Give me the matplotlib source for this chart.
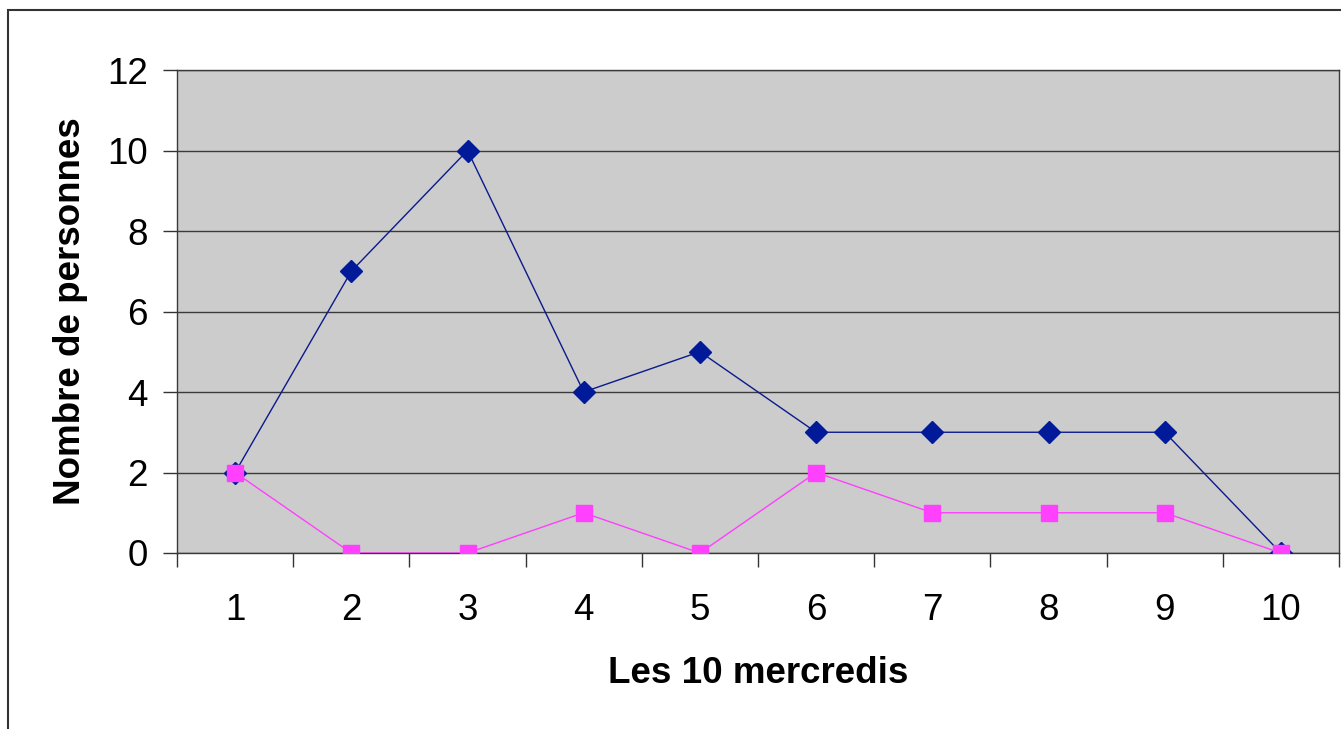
import matplotlib.pyplot as plt
from matplotlib.patches import Rectangle

# donnees
mercredis = [1, 2, 3, 4, 5, 6, 7, 8, 9, 10]
serie_bleue = [2, 7, 10, 4, 5, 3, 3, 3, 3, 0]
serie_rose = [2, 0, 0, 1, 0, 2, 1, 1, 1, 0]
yticks = [0, 2, 4, 6, 8, 10, 12]

plt.rcParams['font.family'] = ['Liberation Sans', 'DejaVu Sans']

fig = plt.figure(figsize=(13.41, 7.29), dpi=100)
fig.patch.set_facecolor('white')

# cadre exterieur (coupe a droite et en bas)
fig.patches.append(Rectangle((8 / 1341, -0.1), 1.2, 1 - 10 / 729 + 0.1,
                             transform=fig.transFigure, fill=False,
                             edgecolor='#333333', linewidth=1.5, zorder=0))

ax = fig.add_axes([177 / 1341, (729 - 553) / 729, (1339 - 177) / 1341, (553 - 70) / 729])
ax.set_facecolor('#cccccc')

x = range(len(mercredis))
ax.plot(x, serie_bleue, color='#0a1a8c', linewidth=1, marker='D', markersize=11,
        markerfacecolor='#001a99', markeredgecolor='#001a99', zorder=3)
ax.plot(x, serie_rose, color='#ff40ff', linewidth=1, marker='s', markersize=11,
        markerfacecolor='#ff40ff', markeredgecolor='#ff40ff', zorder=4)

ax.set_xlim(-0.5, len(mercredis) - 0.5)
ax.set_ylim(0, 12)
ax.set_yticks(yticks)
ax.yaxis.grid(True, color='#3a3a3a', linewidth=1)
ax.set_axisbelow(True)

# ticks entre les categories, labels au centre
ax.set_xticks([i - 0.5 for i in range(len(mercredis) + 1)])
ax.set_xticklabels([])
ax.set_xticks(list(x), minor=True)
ax.set_xticklabels([str(m) for m in mercredis], minor=True)
ax.tick_params(axis='x', which='major', direction='out', length=10, width=1, color='#333333')
ax.tick_params(axis='x', which='minor', length=0, pad=29, labelsize=26.5)
ax.tick_params(axis='y', direction='out', length=10, width=1, color='#333333',
               pad=11, labelsize=26.5)

for s in ax.spines.values():
    s.set_color('#3a3a3a')
    s.set_linewidth(1)

ax.set_xlabel('Les 10 mercredis', fontsize=26.5, fontweight='bold', labelpad=20)
ax.set_ylabel('Nombre de personnes', fontsize=26.5, fontweight='bold', labelpad=13.5)

fig.savefig('out.png', dpi=100)
